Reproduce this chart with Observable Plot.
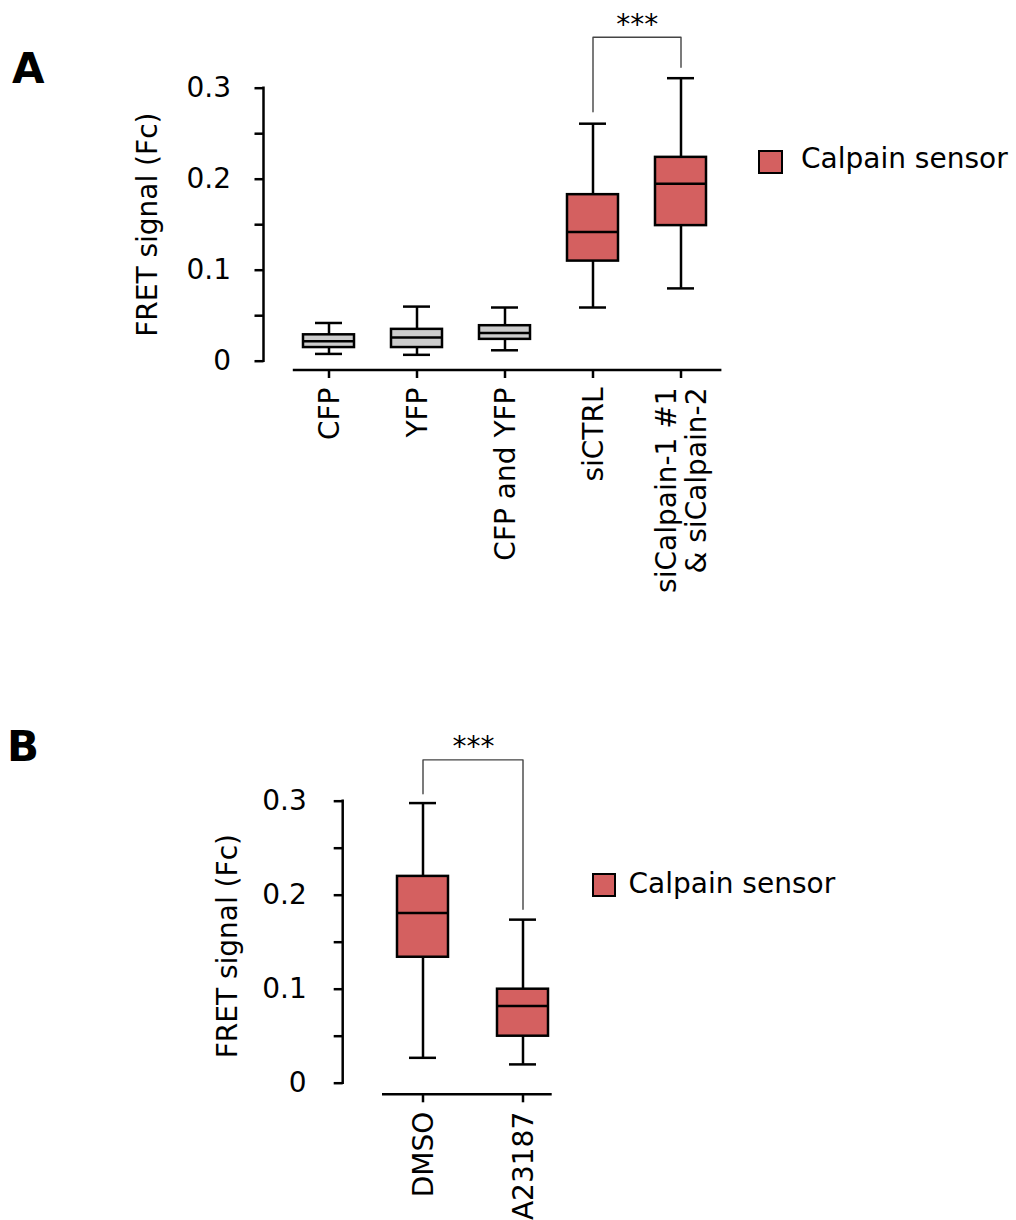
<!DOCTYPE html>
<html><head><meta charset="utf-8">
<script src="https://cdn.jsdelivr.net/npm/d3@7"></script>
<script src="https://cdn.jsdelivr.net/npm/@observablehq/plot@0.6"></script>
<style>
body{margin:0;background:#fff;}
#root{position:relative;width:1016px;height:1220px;font-family:"DejaVu Sans",sans-serif;color:#000;background:#fff;overflow:hidden;}
.panel{position:absolute;left:0;}
.letter{position:absolute;font-weight:bold;font-size:42px;line-height:1;}
.legtext{position:absolute;font-size:28px;line-height:1;white-space:nowrap;}
.swatch{position:absolute;box-sizing:border-box;border:2.5px solid #000;}
</style></head><body><div id="root"></div>
<script>
// ---------- data ----------
const catsA = ["CFP", "YFP", "CFP and YFP", "siCTRL", "siCalpain-1 #1\n& siCalpain-2"];
const groupA = ["control", "control", "control", "sensor", "sensor"];
const minA = [0.008, 0.007, 0.012, 0.059, 0.080];
const q1A  = [0.015, 0.015, 0.024, 0.110, 0.149];
const medA = [0.022, 0.026, 0.031, 0.142, 0.195];
const q3A  = [0.029, 0.035, 0.039, 0.183, 0.224];
const maxA = [0.042, 0.060, 0.059, 0.261, 0.311];
const bracketA = {from: "siCTRL", to: "siCalpain-1 #1\n& siCalpain-2", lowFrom: 0.274, lowTo: 0.323, top: 0.356, label: "***"};

const catsB = ["DMSO", "A23187"];
const groupB = ["sensor", "sensor"];
const minB = [0.027, 0.020];
const q1B  = [0.134, 0.050];
const medB = [0.181, 0.082];
const q3B  = [0.220, 0.100];
const maxB = [0.298, 0.174];
const bracketB = {from: "DMSO", to: "A23187", lowFrom: 0.308, lowTo: 0.185, top: 0.344, label: "***"};

const yDomain = [0, 0.3];
const yTicksMajor = [0, 0.1, 0.2, 0.3];
const yTickLabels = ["0", "0.1", "0.2", "0.3"];
const yTicksMinor = [0.05, 0.15, 0.25];
const yLabel = "FRET signal (Fc)";
const legendLabel = "Calpain sensor";
const fills = {control: "#cccccc", sensor: "#d46060"};

// ---------- helpers ----------
const rows = (cats, g, mn, q1, md, q3, mx) =>
  cats.map((c, i) => ({cat: c, group: g[i], min: mn[i], q1: q1[i], med: md[i], q3: q3[i], max: mx[i]}));

function axisLines(cats, padL, padR) {
  return (index, scales, values, dimensions) => {
    const {x, y} = scales;
    const bw = x.bandwidth ? x.bandwidth() : 0;
    const g = d3.create("svg:g").attr("stroke", "black").attr("stroke-width", 2.5).attr("fill", "none");
    const yb = dimensions.height - dimensions.marginBottom;
    g.append("line")
      .attr("x1", x(cats[0]) - padL).attr("x2", x(cats[cats.length - 1]) + bw + padR)
      .attr("y1", yb).attr("y2", yb);
    g.append("line")
      .attr("x1", dimensions.marginLeft).attr("x2", dimensions.marginLeft)
      .attr("y1", y(yDomain[0]) + 1.25).attr("y2", y(yDomain[1]) - 1.25);
    return g.node();
  };
}

function panel(cfg) {
  const data = cfg.rows;
  const br = cfg.bracket;
  const brPts = [
    {x: br.from, y: br.lowFrom}, {x: br.from, y: br.top},
    {x: br.to, y: br.top}, {x: br.to, y: br.lowTo}
  ];
  const step = (cfg.xRange[1] - cfg.xRange[0]) / cfg.cats.length;
  return Plot.plot({
    width: 1016, height: cfg.height,
    marginLeft: cfg.marginLeft, marginRight: cfg.marginRight,
    marginTop: cfg.marginTop, marginBottom: cfg.marginBottom,
    x: {type: "band", domain: cfg.cats, range: cfg.xRange, paddingInner: cfg.pi, paddingOuter: cfg.pi / 2},
    y: {domain: yDomain, range: cfg.yRange},
    color: {type: "identity"},
    style: {fontFamily: "DejaVu Sans", fontSize: "28px", color: "black", background: "transparent", overflow: "visible"},
    marks: [
      axisLines(cfg.cats, cfg.padL, cfg.padR),
      Plot.axisY({ticks: yTicksMajor, tickSize: 9, tickPadding: cfg.yPad, strokeWidth: 2.5,
        tickFormat: d => yTickLabels[yTicksMajor.indexOf(d)], label: null}),
      Plot.axisY({ticks: yTicksMinor, tickSize: 9, strokeWidth: 2.5, tickFormat: () => "", label: null}),
      Plot.axisX({tickSize: 8, tickPadding: 9, tickRotate: -90, strokeWidth: 2.5, label: null, lineHeight: 1.07}),
      Plot.text([yLabel], {frameAnchor: "left", y: () => (yDomain[0] + yDomain[1]) / 2, text: d => d,
        textAnchor: "middle", lineAnchor: "middle",
        rotate: -90, dx: -115.5, dy: cfg.labelDy, fontSize: 28}),
      Plot.ruleX(data, {x: "cat", y1: "min", y2: "q1", strokeWidth: 2.5}),
      Plot.ruleX(data, {x: "cat", y1: "q3", y2: "max", strokeWidth: 2.5}),
      Plot.tickY(data, {x: "cat", y: "min", inset: 12, strokeWidth: 2.5}),
      Plot.tickY(data, {x: "cat", y: "max", inset: 12, strokeWidth: 2.5}),
      Plot.barY(data, {x: "cat", y1: "q1", y2: "q3", fill: d => fills[d.group], stroke: "black", strokeWidth: 2.5}),
      Plot.tickY(data, {x: "cat", y: "med", strokeWidth: 2.5}),
      Plot.line(brPts, {x: "x", y: "y", stroke: "#444", strokeWidth: 1.4}),
      Plot.text([br], {x: d => d.from, y: d => d.top, text: d => d.label, dx: step / 2, dy: -12.5, fontSize: 28})
    ]
  });
}

const root = document.getElementById("root");

const chartA = panel({
  rows: rows(catsA, groupA, minA, q1A, medA, q3A, maxA), cats: catsA, bracket: bracketA,
  height: 620, marginLeft: 263.5, marginRight: 1016 - 722, marginTop: 87.7, marginBottom: 620 - 370,
  xRange: [282.4, 725.4], pi: 0.424, yRange: [360.7, 87.7], padL: 10.2, padR: 15.4, yPad: 24, labelDy: 0
});
chartA.classList.add("panel");
chartA.style.top = "0px";
root.appendChild(chartA);

const chartB = panel({
  rows: rows(catsB, groupB, minB, q1B, medB, q3B, maxB), cats: catsB, bracket: bracketB,
  height: 600, marginLeft: 342.7, marginRight: 1016 - 552.7, marginTop: 180.7, marginBottom: 600 - 474.3,
  xRange: [371.8, 573.8], pi: 0.492, yRange: [462.7, 180.7], padL: 15, padR: 3.7, yPad: 27.5, labelDy: 4
});
chartB.classList.add("panel");
chartB.style.top = "620px";
root.appendChild(chartB);

// ---------- panel letters and legends ----------
function addDiv(cls, css, text) {
  const d = document.createElement("div");
  d.className = cls;
  Object.assign(d.style, css);
  if (text) d.textContent = text;
  root.appendChild(d);
}
addDiv("letter", {left: "12px", top: "47.5px"}, "A");
addDiv("letter", {left: "7px", top: "726px"}, "B");
addDiv("swatch", {left: "758px", top: "150px", width: "25px", height: "24px", background: fills.sensor});
addDiv("legtext", {left: "801px", top: "145.3px"}, legendLabel);
addDiv("swatch", {left: "592px", top: "872.5px", width: "24px", height: "24px", background: fills.sensor});
addDiv("legtext", {left: "628.5px", top: "869.6px"}, legendLabel);
</script></body></html>
